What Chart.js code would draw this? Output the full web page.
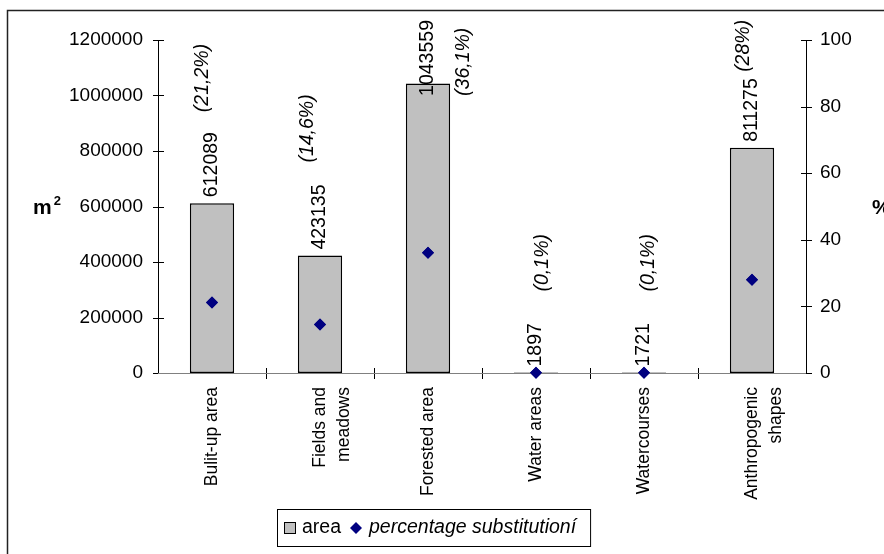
<!DOCTYPE html>
<html>
<head>
<meta charset="utf-8">
<script src="https://cdn.jsdelivr.net/npm/chart.js@4/dist/chart.umd.min.js"></script>
<style>
html,body{margin:0;padding:0;background:#fff;}
#wrap{width:884px;height:554px;position:relative;}
</style>
</head>
<body>
<div id="wrap"><canvas id="c" width="884" height="554"></canvas></div>
<script>
// ---- data ----
const categories = [['Bulit-up area'], ['Fields and', 'meadows'], ['Forested area'], ['Water areas'], ['Watercourses'], ['Anthropogenic', 'shapes']];
const areaValues = [612089, 423135, 1043559, 1897, 1721, 811275];
const percentValues = [21.2, 14.6, 36.1, 0.1, 0.1, 28];
const percentLabels = ['(21,2%)', '(14,6%)', '(36,1%)', '(0,1%)', '(0,1%)', '(28%)'];
const areaTicks = [0, 200000, 400000, 600000, 800000, 1000000, 1200000];
const percentTicks = [0, 20, 40, 60, 80, 100];
const seriesNames = ['area', 'percentage substitutioní'];

// ---- layout / style (not data) ----
const FONT = '"Liberation Sans", Arial, sans-serif';
const LBL = 19.5;
const pctNudge = [[-9, -85], [-12, -87], [36, 0], [7, -75], [5, -75], [-8, -70]];

const decor = {
  id: 'decor',
  beforeDatasetsDraw(chart) {
    const ctx = chart.ctx, a = chart.chartArea;
    const y = chart.scales.y, y1 = chart.scales.y1;
    ctx.save();
    ctx.strokeStyle = '#222'; ctx.lineWidth = 1.5;
    ctx.strokeRect(7.5, 10.5, 1000, 1000);
    ctx.strokeStyle = '#000'; ctx.lineWidth = 1;
    ctx.beginPath();
    ctx.moveTo(a.left + 0.5, a.top); ctx.lineTo(a.left + 0.5, a.bottom);
    ctx.moveTo(a.right + 0.5, a.top); ctx.lineTo(a.right + 0.5, a.bottom);
    areaTicks.forEach(v => { const py = Math.round(y.getPixelForValue(v)) + 0.5; ctx.moveTo(a.left - 5, py); ctx.lineTo(a.left + 6, py); });
    percentTicks.forEach(v => { const py = Math.round(y1.getPixelForValue(v)) + 0.5; ctx.moveTo(a.right - 5, py); ctx.lineTo(a.right + 6, py); });
    const step = (a.right - a.left) / categories.length;
    for (let i = 1; i < categories.length; i++) {
      const px = Math.round(a.left + i * step) + 0.5;
      ctx.moveTo(px, a.bottom - 5); ctx.lineTo(px, a.bottom + 6);
    }
    ctx.stroke();
    ctx.restore();
  },
  afterDatasetsDraw(chart) {
    const ctx = chart.ctx, a = chart.chartArea;
    const x = chart.scales.x, y = chart.scales.y;
    ctx.save();
    ctx.strokeStyle = '#808080'; ctx.lineWidth = 1;
    ctx.beginPath(); ctx.moveTo(a.left, a.bottom + 0.5); ctx.lineTo(a.right, a.bottom + 0.5); ctx.stroke();
    const meta = chart.getDatasetMeta(0);
    meta.data.forEach(p => {
      ctx.fillStyle = '#000080';
      ctx.beginPath(); ctx.moveTo(p.x, p.y - 6); ctx.lineTo(p.x + 6, p.y); ctx.lineTo(p.x, p.y + 6); ctx.lineTo(p.x - 6, p.y); ctx.closePath(); ctx.fill();
    });
    ctx.fillStyle = '#000';
    ctx.textBaseline = 'middle';
    ctx.textAlign = 'left';
    areaValues.forEach((v, i) => {
      const cx = x.getPixelForValue(i);
      const txt = String(v);
      ctx.font = LBL + 'px ' + FONT;
      const w = ctx.measureText(txt).width;
      let start = y.getPixelForValue(v) - 6;
      if (start - w < 20) start = 20 + w;
      ctx.save(); ctx.translate(cx, start); ctx.rotate(-Math.PI / 2);
      ctx.fillText(txt, 0, 0); ctx.restore();
      const [dx, dy] = pctNudge[i];
      ctx.save(); ctx.translate(cx + dx, start + dy); ctx.rotate(-Math.PI / 2);
      ctx.font = 'italic ' + LBL + 'px ' + FONT; ctx.fillText(percentLabels[i], 0, 0); ctx.restore();
    });
    const midY = (a.top + a.bottom) / 2;
    ctx.font = 'bold 21px ' + FONT;
    ctx.fillText('m', 33, midY + 2);
    const mw = ctx.measureText('m').width;
    ctx.font = 'bold 13px ' + FONT;
    ctx.fillText('2', 33 + mw + 2, midY - 5);
    ctx.font = 'bold 21px ' + FONT;
    ctx.fillText('%', 872, midY + 2);
    // legend
    const lx = 277, ly = 509, lh = 37;
    ctx.font = LBL + 'px ' + FONT;
    const t1w = ctx.measureText(seriesNames[0]).width;
    ctx.font = 'italic ' + LBL + 'px ' + FONT;
    const t2w = ctx.measureText(seriesNames[1]).width;
    const lw = 7 + 11 + 7 + t1w + 15 + 13 + t2w + 14;
    ctx.strokeStyle = '#000'; ctx.lineWidth = 1;
    ctx.strokeRect(lx + 0.5, ly + 0.5, lw, lh);
    const cy = ly + lh / 2 + 0.5;
    let px = lx + 7;
    ctx.fillStyle = '#C0C0C0'; ctx.fillRect(px + 0.5, cy - 5.5, 11, 11);
    ctx.strokeRect(px + 0.5, cy - 5.5, 11, 11);
    px += 11 + 7;
    ctx.fillStyle = '#000'; ctx.font = LBL + 'px ' + FONT; ctx.fillText(seriesNames[0], px, cy);
    px += t1w + 15;
    ctx.fillStyle = '#000080';
    ctx.beginPath(); ctx.moveTo(px, cy - 6); ctx.lineTo(px + 6, cy); ctx.lineTo(px, cy + 6); ctx.lineTo(px - 6, cy); ctx.closePath(); ctx.fill();
    px += 13;
    ctx.fillStyle = '#000'; ctx.font = 'italic ' + LBL + 'px ' + FONT; ctx.fillText(seriesNames[1], px, cy);
    ctx.restore();
  }
};

new Chart(document.getElementById('c'), {
  type: 'bar',
  data: {
    labels: categories,
    datasets: [
      {
        type: 'line', label: seriesNames[1], data: percentValues, yAxisID: 'y1',
        showLine: false, pointStyle: 'rectRot', pointRadius: 6, pointHoverRadius: 6,
        backgroundColor: '#000080', borderColor: '#000080', pointBorderWidth: 0, clip: false, order: 1
      },
      {
        type: 'bar', label: seriesNames[0], data: areaValues, yAxisID: 'y',
        backgroundColor: '#C0C0C0', borderColor: '#000', borderWidth: 1.5,
        barPercentage: 0.41, categoryPercentage: 1, order: 2, borderSkipped: false
      }
    ]
  },
  options: {
    responsive: false, animation: false, devicePixelRatio: 1,
    layout: { padding: { top: 40, left: 0, right: 0, bottom: 0 } },
    plugins: { legend: { display: false }, tooltip: { enabled: false } },
    scales: {
      x: {
        offset: true,
        grid: { display: false, drawTicks: false }, border: { display: false },
        ticks: { color: '#000', font: { size: 17.5, family: FONT, lineHeight: 1.4 }, maxRotation: 90, minRotation: 90, padding: 14, autoSkip: false },
        afterFit(s) { s.height = 181; }
      },
      y: {
        position: 'left', min: 0, max: 1200000,
        grid: { display: false, drawTicks: false }, border: { display: false },
        ticks: { color: '#000', font: { size: 19, family: FONT }, padding: 15, stepSize: 200000, callback: v => String(v) },
        afterFit(s) { s.width = 158; }
      },
      y1: {
        position: 'right', min: 0, max: 100,
        grid: { display: false, drawTicks: false }, border: { display: false },
        ticks: { color: '#000', font: { size: 19, family: FONT }, padding: 14, stepSize: 20, callback: v => String(v) },
        afterFit(s) { s.width = 78; }
      }
    }
  },
  plugins: [decor]
});
</script>
</body>
</html>
